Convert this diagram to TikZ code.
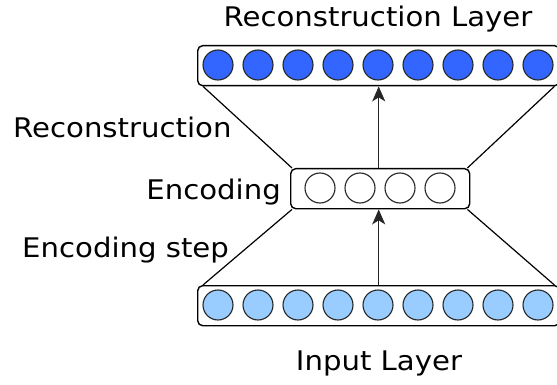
\documentclass[tikz,border=0pt]{standalone}
\usepackage{fontspec}
\setmainfont[FakeStretch=1.08]{DejaVu Sans}
\usetikzlibrary{arrows.meta}
\definecolor{topblue}{HTML}{3366FF}
\definecolor{lowblue}{HTML}{99CCFF}
\begin{document}
\begin{tikzpicture}[x=1pt,y=-1pt,
  layerbox/.style={draw=black, line width=1.4pt, rounded corners=5pt, fill=white, inner sep=0pt},
  unit/.style={circle, draw=black!85, line width=1.1pt, minimum size=30pt, inner sep=0pt},
  topunit/.style={unit, fill=topblue},
  lowunit/.style={unit, fill=lowblue},
  midunit/.style={unit, fill=white},
  lbl/.style={font=\fontsize{27}{32}\selectfont, inner sep=0pt},
  conn/.style={line width=1.2pt},
  flow/.style={line width=1.5pt, draw=black!85, -{Stealth[length=15pt,width=13pt,inset=4pt]}}
]
\useasboundingbox (0,0) rectangle (557,385);
\node[layerbox, minimum width=362pt, minimum height=40pt, anchor=north west] (top) at (197,45) {};
\node[layerbox, minimum width=179pt, minimum height=40pt, anchor=north west] (mid) at (290,168) {};
\node[layerbox, minimum width=362pt, minimum height=40pt, anchor=north west] (bot) at (197,285) {};
\foreach \i in {0,...,8} {
  \node[topunit] (t\i) at (218+40*\i,65) {};
  \node[lowunit] (b\i) at (218+40*\i,305) {};
}
\foreach \i in {0,...,3} {
  \node[midunit] (m\i) at (320+40*\i,188) {};
}
\draw[conn] ([xshift=6pt]top.south west) -- ([xshift=2pt]mid.north west);
\draw[conn] ([xshift=-6pt]top.south east) -- ([xshift=-3pt]mid.north east);
\draw[conn] ([xshift=2pt]mid.south west) -- ([xshift=6pt]bot.north west);
\draw[conn] ([xshift=-3pt]mid.south east) -- ([xshift=-6pt]bot.north east);
\draw[flow] (bot.north) -- (bot.north |- mid.south);
\draw[flow] (bot.north |- mid.north) -- (bot.north |- top.south);
\node[lbl, anchor=base] (tl) at (378,27) {Reconstruction Layer};
\node[lbl, anchor=base west] (rl) at (13,138) {Reconstruction};
\node[lbl, anchor=base east] (el) at (281,199) {Encoding};
\node[lbl, anchor=base west] (esl) at (22,257) {Encoding step};
\node[lbl, anchor=base] (il) at (379,370) {Input Layer};
\end{tikzpicture}
\end{document}
